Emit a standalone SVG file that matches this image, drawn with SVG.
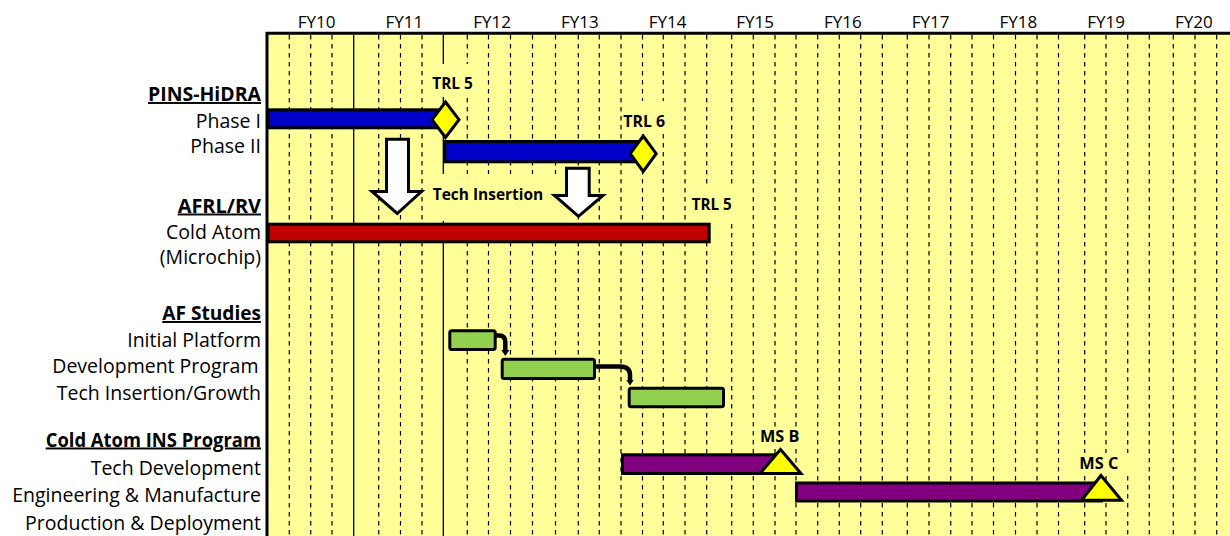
<svg xmlns="http://www.w3.org/2000/svg" width="1230" height="536" viewBox="0 0 1230 536">
<style>
text{font-family:"Open Sans","Liberation Sans",sans-serif;fill:#000}
.fy{font-size:17px;text-anchor:middle}
.lbl{font-size:19.5px;text-anchor:end}
.hdr{font-size:19.5px;font-weight:bold;text-anchor:end;text-decoration:underline}
.ann{font-size:16.5px;font-weight:bold;text-anchor:middle}
.bar{stroke:#000;stroke-width:3}
.ms{fill:#FFFF00;stroke:#000;stroke-width:3;stroke-linejoin:miter}
.blk{fill:#FFFFFF;stroke:#000;stroke-width:3;stroke-linejoin:miter}
.cn{fill:none;stroke:#000;stroke-width:4.5}
.mask{fill:#FFFF99;stroke:none}
</style>
<defs>
<marker id="ah" markerUnits="userSpaceOnUse" viewBox="0 0 6 8" markerWidth="6" markerHeight="8" refX="0.5" refY="4" orient="auto">
<path d="M0,0 L6,4 L0,8 z" fill="#000"/>
</marker>
</defs>
<rect x="0" y="0" width="1230" height="536" fill="#FFFFFF"/>
<g id="chart-background">
<rect x="267" y="33" width="963" height="503" fill="#FFFF99"/>
<path d="M289.3 35V536M310.7 35V536M332 35V536M378.7 35V536M400.5 35V536M422 35V536M467.3 35V536M488.5 35V536M510.5 35V536M532.5 35V536M555.5 35V536M578.3 35V536M599.3 35V536M621 35V536M642.5 35V536M663.3 35V536M685 35V536M706.7 35V536M731.7 35V536M753.3 35V536M775 35V536M796 35V536M817.7 35V536M839.3 35V536M860.7 35V536M882.3 35V536M907.3 35V536M929 35V536M950.7 35V536M972 35V536M993.5 35V536M1015.5 35V536M1037 35V536M1058.5 35V536M1084.7 35V536M1106 35V536M1127.7 35V536M1149.3 35V536M1173.3 35V536M1195 35V536M1216.7 35V536" stroke="#000" stroke-width="1.2" stroke-dasharray="4.5 4.5" fill="none"/>
<path d="M353.7 35V536M443.3 35V536" stroke="#000" stroke-width="1.3" fill="none"/>
<rect class="mask" x="430" y="64" width="42" height="33"/>
<rect class="mask" x="622" y="101" width="46" height="33"/>
<rect class="mask" x="428" y="174" width="131" height="47"/>
<rect class="mask" x="688" y="186" width="48" height="35"/>
<rect class="mask" x="757" y="427" width="43" height="21"/>
<rect class="mask" x="1078" y="453" width="53" height="22"/>
<path d="M265.5 33.3H1230M267 32V536" stroke="#000" stroke-width="3" fill="none"/>
</g>
<g id="fiscal-years">
<text class="fy" x="316.7" y="28.3">FY10</text>
<text class="fy" x="404.4" y="28.3">FY11</text>
<text class="fy" x="492.1" y="28.3">FY12</text>
<text class="fy" x="579.8" y="28.3">FY13</text>
<text class="fy" x="667.5" y="28.3">FY14</text>
<text class="fy" x="755.2" y="28.3">FY15</text>
<text class="fy" x="842.9" y="28.3">FY16</text>
<text class="fy" x="930.6" y="28.3">FY17</text>
<text class="fy" x="1018.3" y="28.3">FY18</text>
<text class="fy" x="1106" y="28.3">FY19</text>
<text class="fy" x="1193.8" y="28.3">FY20</text>
</g>
<g id="row-labels">
<text class="hdr" x="261" y="101" textLength="113" lengthAdjust="spacingAndGlyphs">PINS-HiDRA</text>
<text class="lbl" x="261" y="127.5">Phase I</text>
<text class="lbl" x="261" y="153">Phase II</text>
<text class="hdr" x="261" y="212.5" textLength="83.3" lengthAdjust="spacingAndGlyphs">AFRL/RV</text>
<text class="lbl" x="261" y="239">Cold Atom</text>
<text class="lbl" x="261" y="264">(Microchip)</text>
<text class="hdr" x="261" y="320" textLength="98.7" lengthAdjust="spacingAndGlyphs">AF Studies</text>
<text class="lbl" x="261" y="346.5">Initial Platform</text>
<text class="lbl" x="258.5" y="372.5">Development Program</text>
<text class="lbl" x="261" y="400">Tech Insertion/Growth</text>
<text class="hdr" x="261" y="446.5" textLength="215.3" lengthAdjust="spacingAndGlyphs">Cold Atom INS Program</text>
<text class="lbl" x="261" y="475">Tech Development</text>
<text class="lbl" x="261" y="502">Engineering &amp; Manufacture</text>
<text class="lbl" x="261" y="530">Production &amp; Deployment</text>
</g>
<g id="pins-phase1">
<rect class="bar" x="268" y="109.8" width="170" height="18" fill="#0000C8"/>
</g>
<g id="pins-phase2">
<rect class="bar" x="444.8" y="141.5" width="195" height="20.3" fill="#0000C8"/>
</g>
<g id="milestone-trl5-a">
<polygon class="ms" points="445.5,102 459,119.7 445.5,137.5 432,119.7"/>
<text class="ann" x="452.5" y="88.5" textLength="40.4" lengthAdjust="spacingAndGlyphs">TRL 5</text>
</g>
<g id="milestone-trl6">
<polygon class="ms" points="643.2,136 656.2,153.7 643.2,171.5 630.2,153.7"/>
<text class="ann" x="644.2" y="127" textLength="41.7" lengthAdjust="spacingAndGlyphs">TRL 6</text>
</g>
<g id="cold-atom-bar">
<rect class="bar" x="268" y="224.2" width="441.2" height="17.6" fill="#C00000"/>
<text class="ann" x="711.7" y="210.3" textLength="40" lengthAdjust="spacingAndGlyphs">TRL 5</text>
</g>
<g id="tech-insertion-label">
<text class="ann" x="488" y="200.3" font-size="17" textLength="110.6" lengthAdjust="spacingAndGlyphs">Tech Insertion</text>
</g>
<g id="af-initial-platform">
<rect class="bar" x="449.8" y="330.8" width="45.4" height="18.7" rx="2" fill="#92D050"/>
</g>
<g id="af-development-program">
<rect class="bar" x="502.2" y="359.2" width="92.3" height="19.3" rx="2" fill="#92D050"/>
</g>
<g id="af-tech-insertion">
<rect class="bar" x="629.2" y="388.2" width="94.3" height="18.6" rx="2" fill="#92D050"/>
</g>
<g id="ins-tech-development">
<rect class="bar" x="622.5" y="454.8" width="162" height="18.7" fill="#800080"/>
<polygon class="ms" points="780.5,449.5 801,473.5 760,473.5"/>
<text class="ann" x="779.7" y="442" textLength="39.3" lengthAdjust="spacingAndGlyphs">MS B</text>
</g>
<g id="ins-engineering">
<rect class="bar" x="796.5" y="483" width="305" height="18" fill="#800080"/>
<polygon class="ms" points="1101,475.5 1121.5,500.2 1081.5,500.2"/>
<text class="ann" x="1098.8" y="469.3" textLength="39" lengthAdjust="spacingAndGlyphs">MS C</text>
</g>
<g id="connectors">
<polygon class="blk" points="386.5,139.2 408.5,139.2 408.5,191.5 421.5,191.5 397.2,213.5 372,191.5 386.5,191.5"/>
<polygon class="blk" points="566.5,168.2 589.2,168.2 589.2,195.5 603,195.5 578.5,216.3 554.5,195.5 566.5,195.5"/>
<path class="cn" d="M495 335.5H499Q505.3 335.5 505.3 342V350.5" marker-end="url(#ah)"/>
<path class="cn" d="M594.5 366.5H620Q630 366.5 630 375V380" marker-end="url(#ah)"/>
</g>
</svg>
